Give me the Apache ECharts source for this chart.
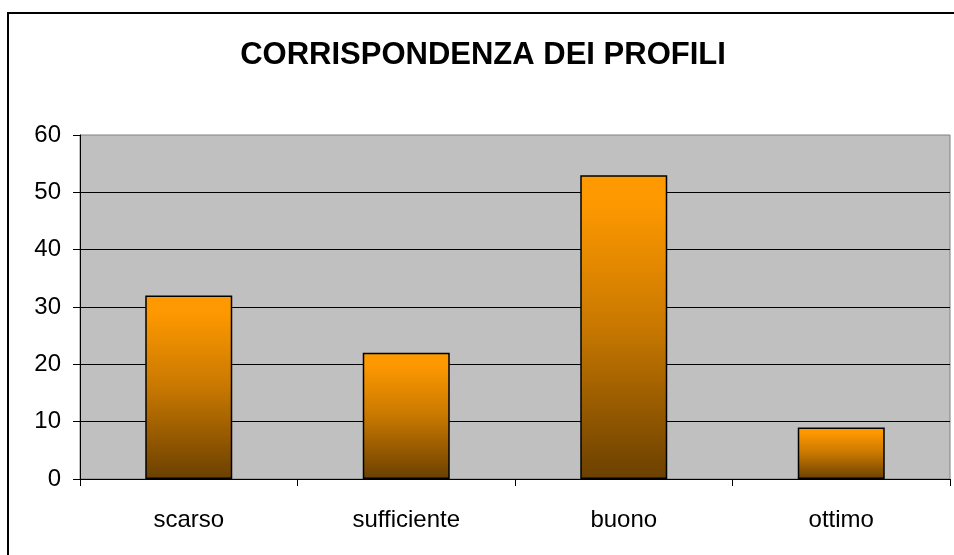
<!DOCTYPE html>
<html>
<head>
<meta charset="utf-8">
<script src="https://cdn.jsdelivr.net/npm/echarts@6/dist/echarts.min.js"></script>
<style>
  html, body { margin: 0; padding: 0; background: #fff; }
  #chart { width: 954px; height: 555px; }
</style>
</head>
<body>
<div id="chart"></div>
<script>
var categories = ["scarso", "sufficiente", "buono", "ottimo"];
var values = [32, 22, 53, 9];
var yTicks = { min: 0, max: 60, interval: 10 };

var chart = echarts.init(document.getElementById("chart"));
chart.setOption({
  animation: false,
  textStyle: { fontFamily: "Liberation Sans, Arial, sans-serif" },
  title: {
    text: "CORRISPONDENZA DEI PROFILI",
    left: 478,
    top: 35,
    textAlign: "center",
    textStyle: { fontSize: 31, fontWeight: "bold", color: "#000" }
  },
  graphic: [
    {
      type: "rect",
      shape: { x: 8, y: 13, width: 1000, height: 1000 },
      style: { fill: "none", stroke: "#000", lineWidth: 2 },
      silent: true
    }
  ],
  grid: {
    left: 80,
    right: 4,
    top: 135,
    bottom: 76,
    show: true,
    backgroundColor: "#C0C0C0",
    borderColor: "#808080",
    borderWidth: 1
  },
  xAxis: {
    type: "category",
    data: categories,
    axisLine: { show: true, lineStyle: { color: "#000", width: 1 } },
    axisTick: { show: true, length: 7, lineStyle: { color: "#000" } },
    axisLabel: { fontSize: 24, color: "#000", margin: 29 }
  },
  yAxis: {
    type: "value",
    min: yTicks.min,
    max: yTicks.max,
    interval: yTicks.interval,
    axisLine: { show: true, lineStyle: { color: "#000", width: 1 } },
    axisTick: { show: true, length: 7, lineStyle: { color: "#000" } },
    axisLabel: { fontSize: 24, color: "#000", margin: 19 },
    splitLine: { show: true, showMaxLine: false, lineStyle: { color: "#000", width: 1 } }
  },
  series: [
    {
      type: "bar",
      data: values,
      barWidth: "40%",
      itemStyle: {
        borderColor: "#000",
        borderWidth: 1.5,
        color: new echarts.graphic.LinearGradient(0, 0, 0, 1, [
          { offset: 0, color: "#FF9900" },
          { offset: 0.1, color: "#FD9800" },
          { offset: 0.5, color: "#C87800" },
          { offset: 1, color: "#6B4000" }
        ])
      }
    }
  ]
});
</script>
</body>
</html>
